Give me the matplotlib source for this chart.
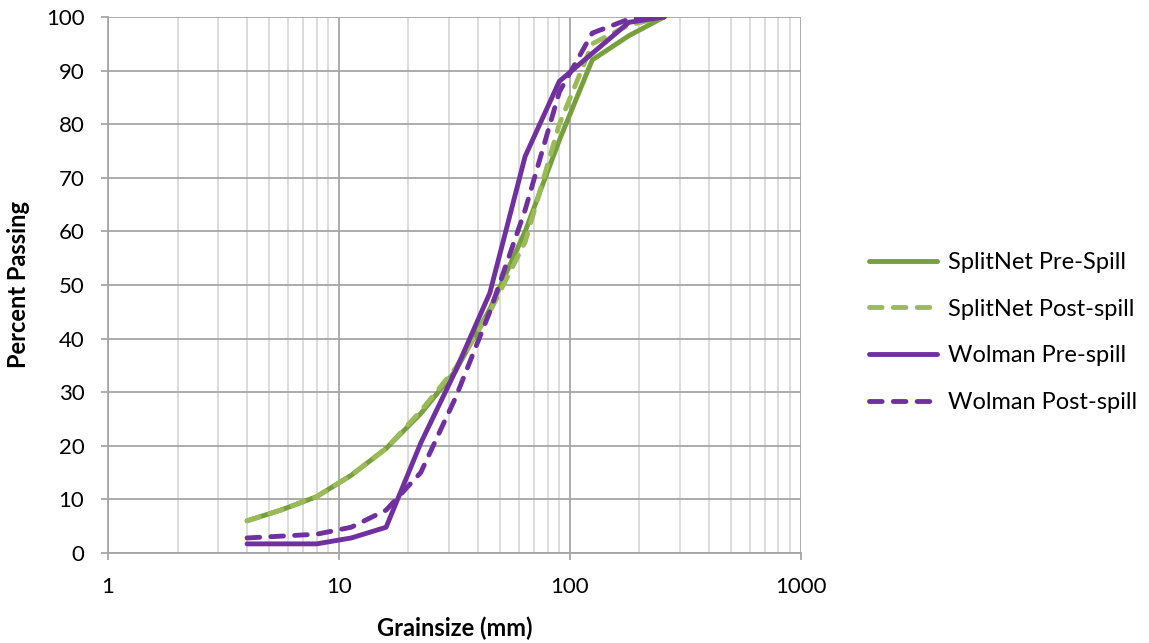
import matplotlib
matplotlib.use("Agg")
import matplotlib.pyplot as plt
from matplotlib.ticker import LogLocator, FixedLocator, NullFormatter

plt.rcParams["font.family"] = ["Lato", "DejaVu Sans"]

# sieve sizes (mm) and percent passing
sizes = [4, 5.6, 8, 11.3, 16, 22.6, 32, 45, 64, 90, 125, 180, 256]
splitnet_pre = [6, 8, 10.5, 14.5, 19.5, 26, 34, 45.5, 60, 77, 92, 96.5, 100]
splitnet_post = [6, 8, 10.5, 14.5, 19.5, 26.5, 34.5, 45, 58, 80, 95, 98.5, 100]
wolman_pre_x = [4, 8, 11.3, 16, 22.6, 32, 45, 64, 90, 180, 256]
wolman_pre = [1.7, 1.7, 2.8, 4.8, 20.5, 34, 48.5, 74, 88, 99, 100]
wolman_post_x = [4, 8, 11.3, 16, 22.6, 32, 45, 64, 90, 125, 180, 256]
wolman_post = [2.8, 3.5, 4.8, 8, 15, 29, 45, 64, 86, 97, 99.6, 100]

labels = ["SplitNet Pre-Spill", "SplitNet Post-spill", "Wolman Pre-spill", "Wolman Post-spill"]
green_dark = "#77A03C"
green_light = "#9BBB59"
purple = "#7030A0"
dash = (0, (2.6, 2.3))

fig = plt.figure(figsize=(11.49, 6.43), dpi=100)
ax = fig.add_axes([0.094, 0.14, 0.603, 0.8336])

ax.plot(sizes, splitnet_pre, color=green_dark, lw=3.5, label=labels[0], solid_capstyle="round")
ax.plot(sizes, splitnet_post, color=green_light, lw=3.5, ls=dash, label=labels[1], dash_capstyle="round")
ax.plot(wolman_pre_x, wolman_pre, color=purple, lw=3.5, label=labels[2], solid_capstyle="round")
ax.plot(wolman_post_x, wolman_post, color=purple, lw=3.5, ls=dash, label=labels[3], dash_capstyle="round")

ax.set_xscale("log")
ax.set_xlim(1, 1000)
ax.set_ylim(0, 100)
ax.set_yticks(range(0, 101, 10))
ax.xaxis.set_major_locator(FixedLocator([1, 10, 100, 1000]))
ax.set_xticklabels(["1", "10", "100", "1000"])
ax.xaxis.set_minor_locator(LogLocator(base=10, subs=range(2, 10)))
ax.xaxis.set_minor_formatter(NullFormatter())

ax.grid(True, which="major", color="#a6a6a6", lw=1.3)
ax.grid(True, which="minor", axis="x", color="#d9d9d9", lw=1.3)
ax.set_axisbelow(True)
for s in ["top", "right"]:
    ax.spines[s].set_visible(False)
for s in ["left", "bottom"]:
    ax.spines[s].set_color("#a6a6a6")
    ax.spines[s].set_linewidth(1.3)
ax.tick_params(axis="both", which="major", labelsize=16, length=5, width=1.3,
               color="#a6a6a6", pad=12)
ax.tick_params(axis="x", which="minor", length=0)

ax.set_xlabel("Grainsize (mm)", fontsize=17, fontweight="bold", labelpad=14)
ax.set_ylabel("Percent Passing", fontsize=17, fontweight="bold", labelpad=11)

fig.legend(loc="center left", bbox_to_anchor=(0.738, 0.483), frameon=False,
           fontsize=17, handlelength=2.85, handletextpad=0.5, labelspacing=1.09)

fig.savefig("out.png", dpi=100)
